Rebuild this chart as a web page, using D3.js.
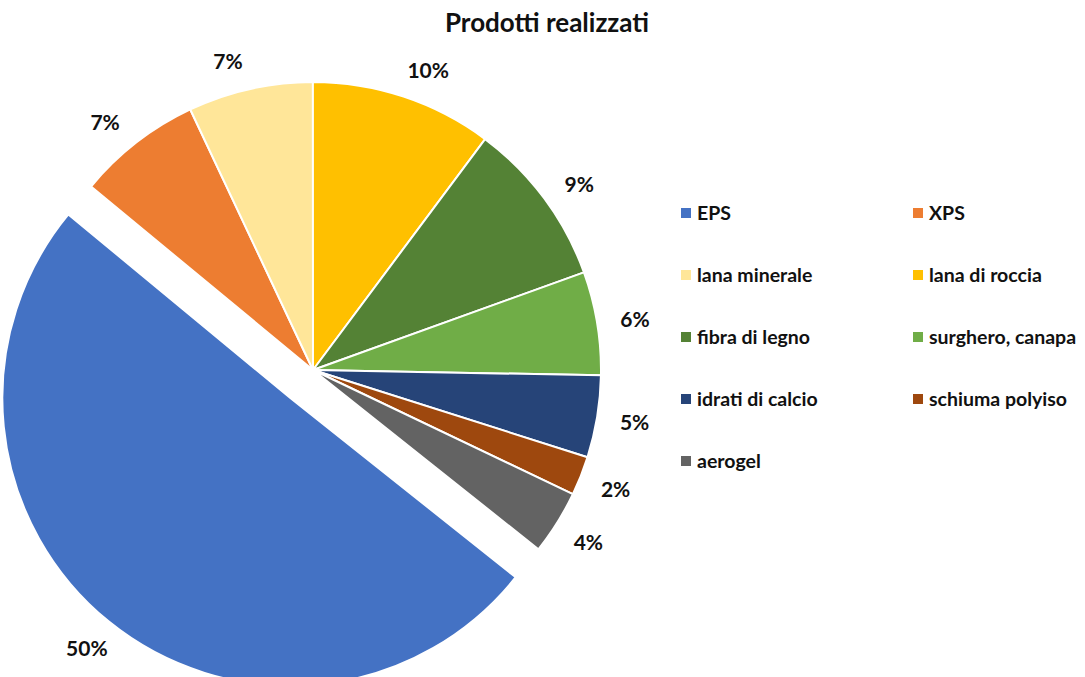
<!DOCTYPE html>
<html>
<head>
<meta charset="utf-8">
<title>Prodotti realizzati</title>
<script src="https://cdn.jsdelivr.net/npm/d3@7"></script>
<style>
    body { margin: 0; background: #fff; }
    text { font-family: Lato, "Open Sans", sans-serif; font-weight: bold; fill: #111; }
    .title { font-size: 26px; text-anchor: middle; }
    .lbl { font-size: 21px; text-anchor: middle; }
    .leg { font-size: 19.5px; }
</style>
</head>
<body>
<script>
    // data
    var categories = ['EPS', 'XPS', 'lana minerale', 'lana di roccia', 'fibra di legno',
        'surghero, canapa', 'idrati di calcio', 'schiuma polyiso', 'aerogel'];
    var shares = [50.3, 7.0, 7.0, 10.2, 9.3, 5.8, 4.6, 2.2, 3.6];
    var colors = ['#4472C4', '#ED7D31', '#FFE699', '#FFC000', '#548235',
        '#70AD47', '#264478', '#9E480E', '#636363'];

    var width = 1085, height = 677;
    var cx = 313, cy = 370, radius = 288;
    var explode = 36;

    var svg = d3.select('body').append('svg').attr('width', width).attr('height', height);

    svg.append('text').attr('class', 'title').attr('x', 547).attr('y', 32).text('Prodotti realizzati');

    var total = d3.sum(shares);
    var start = 128.5 * Math.PI / 180;
    var pie = d3.pie().sort(null).value(d => d.v).startAngle(start).endAngle(start + 2 * Math.PI);
    var arcs = pie(categories.map((c, i) => ({ name: c, v: shares[i], color: colors[i], i: i })));

    var arc = d3.arc().innerRadius(0).outerRadius(radius);

    var offset = function (d) {
        if (d.data.i !== 0) return [0, 0];
        var m = (d.startAngle + d.endAngle) / 2;
        return [Math.sin(m) * explode, -Math.cos(m) * explode];
    };

    var g = svg.append('g').attr('transform', 'translate(' + cx + ',' + cy + ')');

    g.selectAll('path.slice').data(arcs).enter().append('path')
        .attr('class', 'slice')
        .attr('d', arc)
        .attr('fill', d => d.data.color)
        .attr('stroke', '#fff')
        .attr('stroke-width', 2)
        .attr('stroke-linejoin', 'round')
        .attr('transform', d => 'translate(' + offset(d) + ')');

    // labels sit just outside the arc; push further where the text box is wide
    var TAU = 2 * Math.PI;
    var labelR = 318;
    var labelPos = function (d) {
        var m = ((d.startAngle + d.endAngle) / 2) % TAU;
        var r = labelR + 8 * Math.abs(Math.sin(m));
        var a = m;
        // labels near the top spread away from 12 o'clock
        if (Math.cos(m) > 0) a += (m > Math.PI ? -1 : 1) * 0.05 * Math.cos(m);
        var o = offset(d);
        return [o[0] + Math.sin(a) * r, o[1] - Math.cos(a) * r];
    };
    g.selectAll('text.lbl').data(arcs).enter().append('text')
        .attr('class', 'lbl')
        .attr('dy', '0.35em')
        .attr('x', d => labelPos(d)[0])
        .attr('y', d => labelPos(d)[1])
        .text(d => Math.round(d.data.v / total * 100) + '%');

    // legend, two columns, row-major
    var colX = [681, 913], rowY0 = 213, rowStep = 62;
    var leg = svg.selectAll('.legitem').data(categories).enter().append('g')
        .attr('class', 'legitem')
        .attr('transform', (d, i) => 'translate(' + colX[i % 2] + ',' + (rowY0 + Math.floor(i / 2) * rowStep) + ')');
    leg.append('rect').attr('x', 0).attr('y', -5).attr('width', 10).attr('height', 10)
        .attr('fill', (d, i) => colors[i]);
    leg.append('text').attr('class', 'leg').attr('x', 16).attr('dy', '0.35em').text(d => d);
</script>
</body>
</html>
